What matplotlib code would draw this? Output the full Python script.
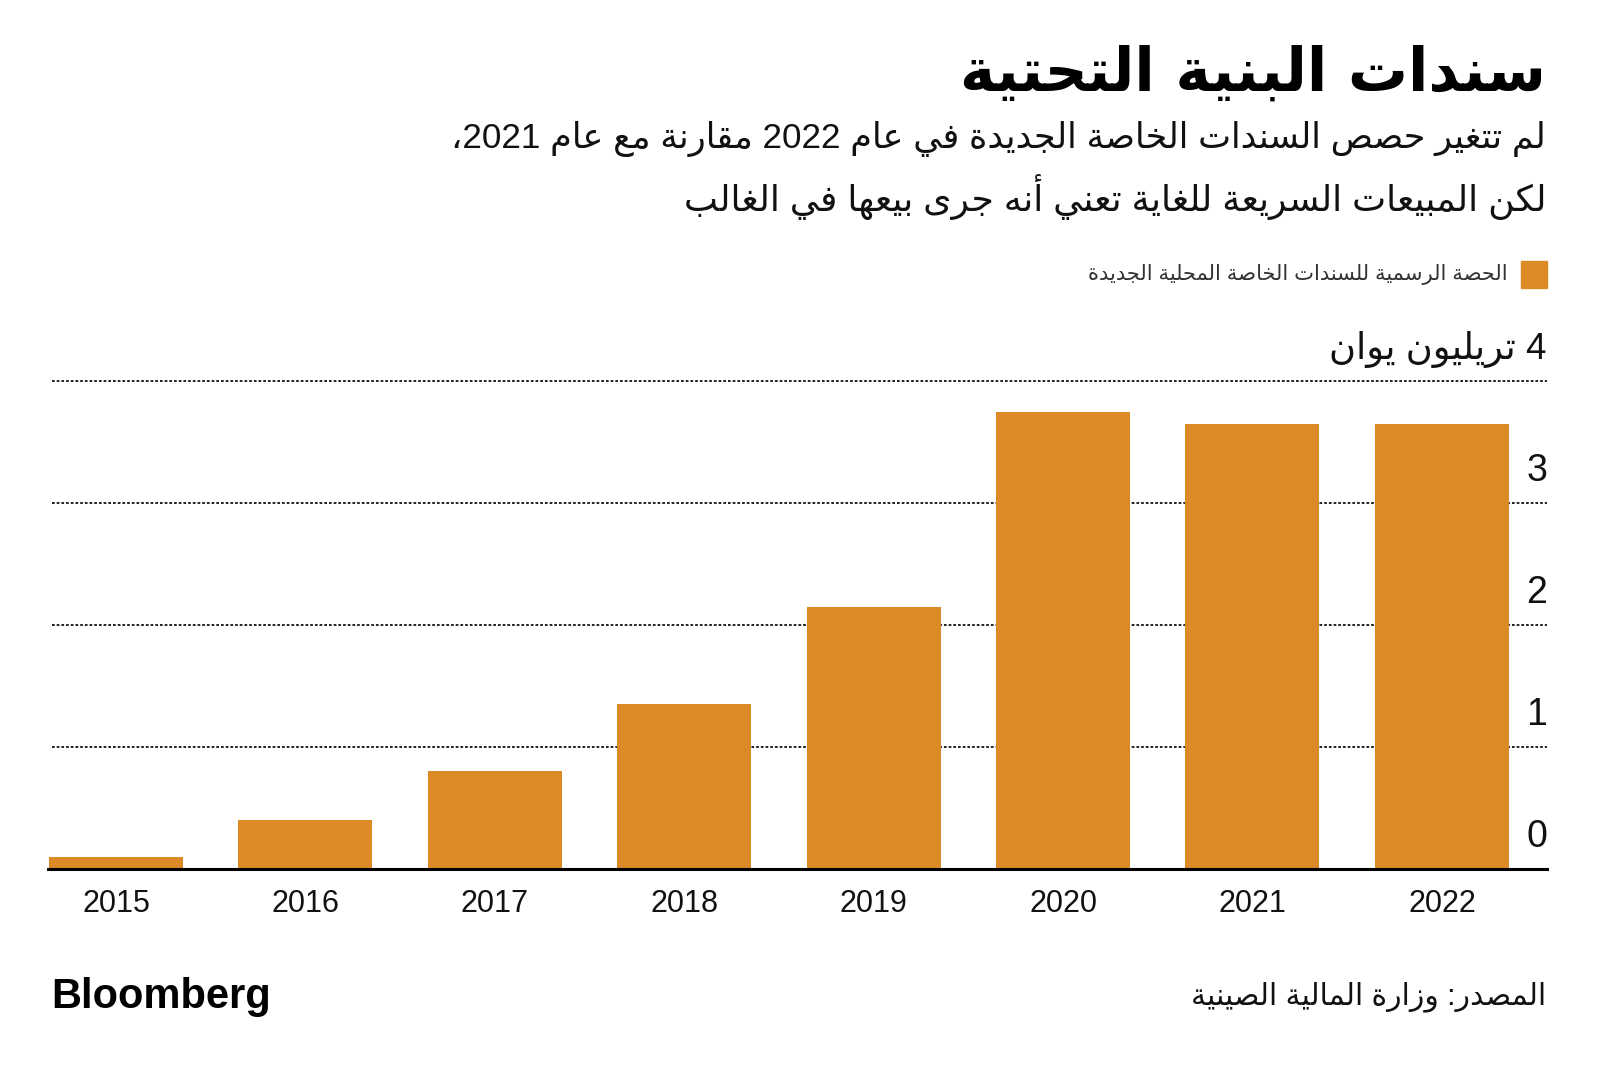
import re
import matplotlib
matplotlib.use("Agg")
import matplotlib.pyplot as plt
from matplotlib.patches import Rectangle

# ---------------- data ----------------
years = ["2015", "2016", "2017", "2018", "2019", "2020", "2021", "2022"]
quota = [0.1, 0.4, 0.8, 1.35, 2.15, 3.75, 3.65, 3.65]
y_ticks = [0, 1, 2, 3, 4]
y_tick_labels = ["0", "1", "2", "3", "4 تريليون يوان"]

title = "سندات البنية التحتية"
subtitle_lines = [
    "لم تتغير حصص السندات الخاصة الجديدة في عام 2022 مقارنة مع عام 2021،",
    "لكن المبيعات السريعة للغاية تعني أنه جرى بيعها في الغالب",
]
legend_label = "الحصة الرسمية للسندات الخاصة المحلية الجديدة"
source = "المصدر: وزارة المالية الصينية"
brand = "Bloomberg"

# ---------------- minimal Arabic shaping + bidi ----------------
_seq = [(0x621, 1), (0x622, 2), (0x623, 2), (0x624, 2), (0x625, 2), (0x626, 4),
        (0x627, 2), (0x628, 4), (0x629, 2), (0x62A, 4), (0x62B, 4), (0x62C, 4),
        (0x62D, 4), (0x62E, 4), (0x62F, 2), (0x630, 2), (0x631, 2), (0x632, 2),
        (0x633, 4), (0x634, 4), (0x635, 4), (0x636, 4), (0x637, 4), (0x638, 4),
        (0x639, 4), (0x63A, 4), (0x641, 4), (0x642, 4), (0x643, 4), (0x644, 4),
        (0x645, 4), (0x646, 4), (0x647, 4), (0x648, 2), (0x649, 2), (0x64A, 4)]
FORMS = {}
_c = 0xFE80
for cp, n in _seq:
    forms = [chr(_c + k) for k in range(n)] + [None] * (4 - n)
    FORMS[chr(cp)] = (n, forms)  # iso, fin, ini, med
    _c += n
LAM_ALEF = {"\u0622": (0xFEF5, 0xFEF6), "\u0623": (0xFEF7, 0xFEF8),
            "\u0625": (0xFEF9, 0xFEFA), "\u0627": (0xFEFB, 0xFEFC)}


def _dual(ch):
    return ch in FORMS and FORMS[ch][0] == 4


def _joinable(ch):
    return ch in FORMS and FORMS[ch][0] >= 2


def shape(s):
    out = []
    i = 0
    while i < len(s):
        ch = s[i]
        if ch not in FORMS:
            out.append(ch)
            i += 1
            continue
        prev = s[i - 1] if i > 0 else ""
        join_prev = _dual(prev)
        nxt = s[i + 1] if i + 1 < len(s) else ""
        if ch == "\u0644" and nxt in LAM_ALEF:
            iso, fin = LAM_ALEF[nxt]
            out.append(chr(fin if join_prev else iso))
            i += 2
            continue
        n, f = FORMS[ch]
        join_next = n == 4 and _joinable(nxt)
        if join_prev and join_next:
            g = f[3]
        elif join_prev:
            g = f[1] if n >= 2 else f[0]
        elif join_next:
            g = f[2]
        else:
            g = f[0]
        out.append(g)
        i += 1
    shaped = "".join(out)
    tokens = re.findall(r"[0-9]+(?:[.,][0-9]+)*|[^0-9]+", shaped)
    vis = []
    for t in reversed(tokens):
        vis.append(t if t[0].isdigit() else t[::-1])
    return "".join(vis)


# ---------------- figure ----------------
W, H = 1600, 1073
fig = plt.figure(figsize=(16, 10.73), dpi=100)
fig.patch.set_facecolor("white")

AR = ["Liberation Sans", "DejaVu Sans"]
BAR = "#DB8A26"


def fx(px):
    return px / W


def fy(py):
    return 1 - py / H


# axes geometry
ax_left, ax_right = 48, 1547
y0_px, y4_px = 869, 381
ax = fig.add_axes([fx(ax_left), fy(y0_px), (ax_right - ax_left) / W, (y0_px - y4_px) / H])
ax.set_xlim(-0.359, 7.555)
ax.set_ylim(0, 4)
ax.set_facecolor("none")
for sp in ax.spines.values():
    sp.set_visible(False)
ax.tick_params(left=False, right=False, bottom=False, labelleft=False, labelbottom=False)

x = list(range(len(years)))
ax.bar(x, quota, width=0.7075, color=BAR, zorder=2)

for t in y_ticks[1:]:
    ax.axhline(t, xmin=0.003, color="#111111", lw=1.3, ls=(0, (1.5, 1.1)),
               zorder=1, clip_on=False)
ax.axhline(0, color="black", lw=2.2, zorder=3, clip_on=False)

# y tick labels (right side, above gridline)
for t, lab in zip(y_ticks, y_tick_labels):
    ax.text(7.555, t + 0.18, shape(lab), ha="right", va="baseline",
            fontsize=27 if t < 4 else 26.5, family=AR, color="#111111")

# x tick labels
for xi, yr in zip(x, years):
    ax.text(xi, -0.29, yr, ha="center", va="center", fontsize=22,
            family="Liberation Sans", color="#111111")

# title & subtitle
fig.text(fx(1546), fy(91), shape(title), ha="right", va="baseline",
         fontsize=43, fontweight="bold", family="DejaVu Sans", color="black")
fig.text(fx(1546), fy(148), shape(subtitle_lines[0]), ha="right", va="baseline",
         fontsize=25.2, family=AR, color="#111111")
fig.text(fx(1546), fy(211), shape(subtitle_lines[1]), ha="right", va="baseline",
         fontsize=26, family=AR, color="#111111")

# legend
fig.patches.append(Rectangle((fx(1521), fy(288)), 26 / W, 27 / H,
                             transform=fig.transFigure, color=BAR))
fig.text(fx(1508), fy(280), shape(legend_label), ha="right", va="baseline",
         fontsize=15.2, family=AR, color="#333333")

# footer
fig.text(fx(51), fy(1008), brand, ha="left", va="baseline", fontsize=30,
         fontweight="bold", family="Liberation Sans", color="black")
fig.text(fx(1546), fy(1004), shape(source), ha="right", va="baseline",
         fontsize=21.4, family=AR, color="#111111")

fig.savefig("out.png", dpi=100, facecolor="white")
